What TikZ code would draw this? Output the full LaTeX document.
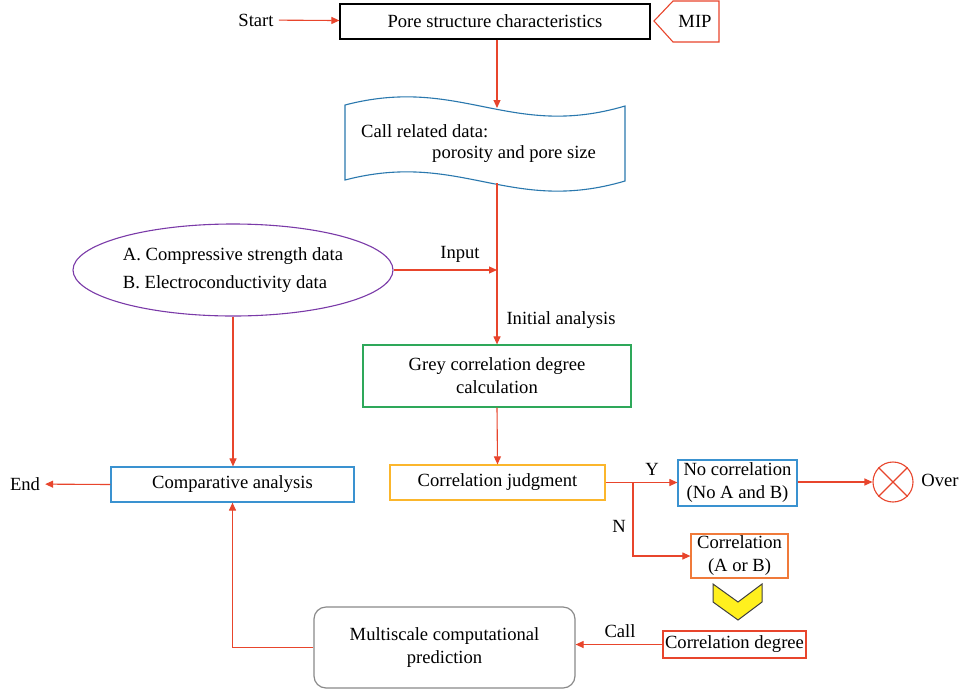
\documentclass[tikz,border=0pt]{standalone}
\usepackage{fontspec}
\setmainfont{Liberation Serif}
\usetikzlibrary{arrows.meta,shapes.geometric}
\definecolor{arr}{HTML}{E8452C}
\definecolor{wavec}{HTML}{2A78AE}
\definecolor{boxblue}{HTML}{3A92D0}
\definecolor{boxgreen}{HTML}{2EA85A}
\definecolor{purp}{HTML}{7A3AA8}
\definecolor{yelbox}{HTML}{FBB62C}
\definecolor{orbox}{HTML}{F07A3A}
\definecolor{chev}{HTML}{FFF01E}
\definecolor{grayb}{HTML}{8A8A8A}
\begin{document}
\begin{tikzpicture}[x=1pt,y=-1pt,
  font=\fontsize{18.6}{23}\selectfont,
  box/.style={draw, line width=1.2pt, inner sep=2pt, align=center},
  conn/.style={draw=arr, line width=1.1pt, -{Triangle[length=8pt,width=7pt]}},
  lab/.style={inner sep=0pt},
  term/.style={inner sep=5pt}]
\useasboundingbox (0,0) rectangle (960,691);
\fill[white] (0,0) rectangle (960,691);

% top box and terminal
\node[box, draw=black, minimum width=310pt, minimum height=35pt] (psc) at (495,21.5) {Pore structure characteristics};
\node[term] (start) at (256,20) {Start};
\draw[conn] (start) -- (psc);
\draw[draw=arr, line width=1.1pt] (654,21) -- (673,1) -- (719,1) -- (719,42) -- (673,42) -- cycle;
\node[lab] (mip) at (695,21) {MIP};

% wavy data shape
\draw[wavec, line width=1.1pt] (345,105) .. controls (460,75) and (510,140) .. (625,106)
  -- (625,181) .. controls (510,215) and (460,150) .. (345,180) -- cycle;
\coordinate (wtop) at (497,108);
\coordinate (wbot) at (497,183);
\node[lab, anchor=west] (cl1) at (361,131) {Call related data:};
\node[lab, anchor=west] (cl2) at (432,154) {porosity and pore size};
\draw[conn] (psc.south -| wtop) -- (wtop);

% ellipse
\node[ellipse, draw=purp, line width=1.1pt, minimum width=320pt, minimum height=92pt, inner sep=0pt,
  align=left, font=\fontsize{18.6}{28}\selectfont] (abd) at (233,270)
  {A. Compressive strength data\\B. Electroconductivity data};

% grey box
\node[box, draw=boxgreen, minimum width=268pt, minimum height=62pt] (grey) at (497,376)
  {Grey correlation degree\\calculation};
\draw[conn] (wbot) -- (wbot |- grey.north);
\draw[conn] (abd.east) -- (abd.east -| wbot);
\node[lab] (inputl) at (460,254) {Input};
\node[lab] (initl) at (561,320) {Initial analysis};

% judgment
\node[box, draw=yelbox, minimum width=215pt, minimum height=35pt] (cj) at (497.5,482.5) {Correlation judgment};
\draw[conn] (grey.south) -- (cj.north);

\node[box, draw=boxblue, minimum width=119pt, minimum height=46pt, inner sep=1pt] (nc) at (737.5,483)
  {No correlation\\(No A and B)};
\node[box, draw=orbox, minimum width=97pt, minimum height=44pt, inner sep=1pt] (corr) at (739.5,556)
  {Correlation\\(A or B)};
\draw[conn] (cj.east) -- (cj.east -| nc.west);
\coordinate (br) at (633,482.5);
\draw[conn] (br) |- (corr.west);
\node[lab] (yl) at (652,469) {Y};
\node[lab] (nl) at (619,526) {N};

% over
\node[circle, draw=arr, line width=1.1pt, minimum size=40pt, inner sep=0pt] (over) at (893,482) {};
\draw[arr, line width=1.1pt] (over.north west) -- (over.south east) (over.north east) -- (over.south west);
\draw[conn] (nc.east |- over.west) -- (over.west);
\node[lab] (overl) at (940,480) {Over};

% chevron
\draw[fill=chev, draw=black!75, line width=1pt] (713,584) -- (738,602) -- (762,584) -- (762,602) -- (738,620) -- (713,602) -- cycle;

% correlation degree
\node[box, draw=arr, minimum width=143pt, minimum height=27pt, inner sep=1pt] (cd) at (734.5,644.5) {Correlation degree};

% multiscale
\node[box, draw=grayb, rounded corners=12pt, minimum width=261pt, minimum height=81pt] (ms) at (444.5,647.5)
  {Multiscale computational\\prediction};
\draw[conn] (cd.west) -- (cd.west -| ms.east);
\node[lab] (calll) at (620,631) {Call};

% comparative
\node[box, draw=boxblue, minimum width=243pt, minimum height=35pt] (ca) at (232.5,484.5) {Comparative analysis};
\draw[conn] (abd.south) -- (abd.south |- ca.north);
\draw[conn] (ms.west) -| (ca.south);
\node[term] (endn) at (25,484) {End};
\draw[conn] (ca.west) -- (endn);
\end{tikzpicture}
\end{document}
